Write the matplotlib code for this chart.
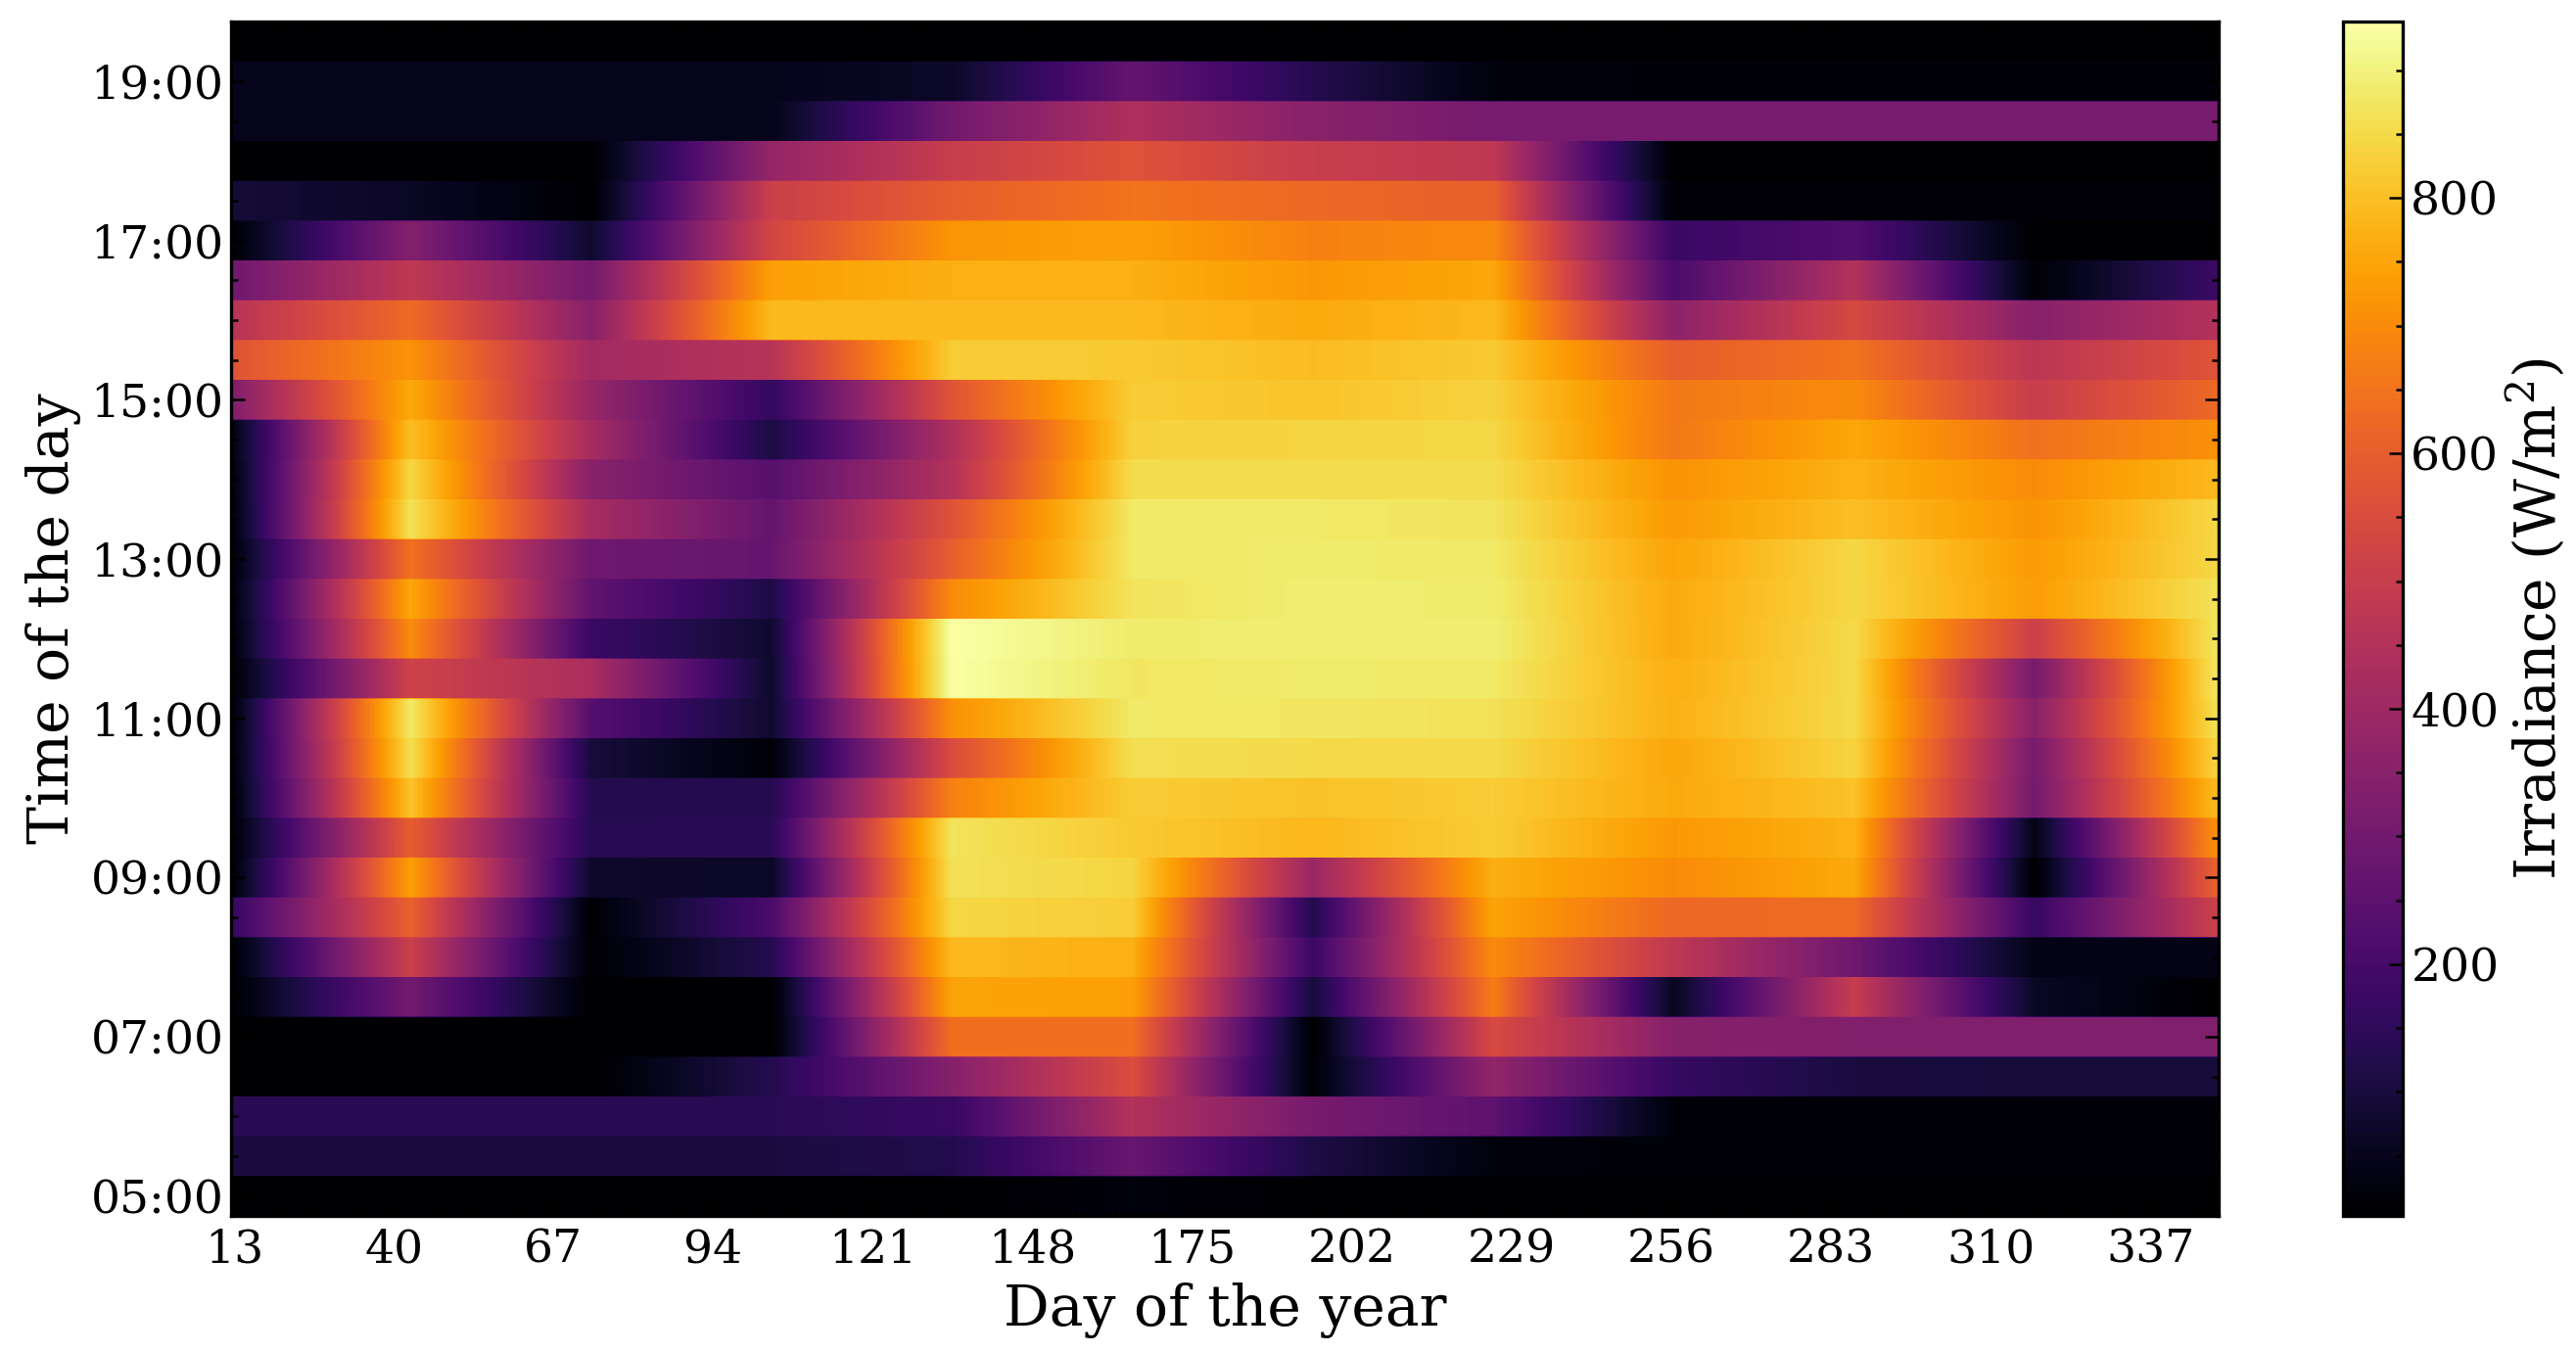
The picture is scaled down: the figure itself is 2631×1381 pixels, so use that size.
import numpy as np
import matplotlib
matplotlib.use('Agg')
import matplotlib.pyplot as plt
from matplotlib.ticker import MultipleLocator

plt.rcParams['font.family'] = 'DejaVu Serif'
plt.rcParams['mathtext.fontset'] = 'dejavuserif'

# Monthly sample days and the half-hourly time slots (top row first)
days = [12.5, 43, 73.5, 104, 134.5, 165, 195.5, 226, 256.5, 287, 317.5, 348]
hours = [19.5, 19, 18.5, 18, 17.5, 17, 16.5, 16, 15.5, 15, 14.5, 14, 13.5, 13, 12.5,
         12, 11.5, 11, 10.5, 10, 9.5, 9, 8.5, 8, 7.5, 7, 6.5, 6, 5.5, 5]

# Irradiance in W/m2
h1930 = [5, 5, 5, 5, 5, 8, 6, 5, 5, 5, 5, 5]
h1900 = [48, 48, 48, 48, 70, 270, 130, 25, 20, 20, 20, 20]
h1830 = [48, 48, 48, 48, 300, 440, 350, 310, 310, 310, 310, 310]
h1800 = [5, 5, 5, 380, 500, 570, 500, 480, 5, 5, 5, 5]
h1730 = [95, 65, 5, 510, 600, 650, 625, 605, 12, 12, 12, 12]
h1700 = [10, 340, 80, 530, 720, 740, 680, 695, 175, 225, 5, 5]
h1630 = [290, 480, 305, 740, 770, 770, 725, 755, 210, 450, 15, 175]
h1600 = [460, 630, 350, 790, 790, 790, 760, 790, 360, 540, 350, 450]
h1530 = [570, 715, 410, 460, 825, 820, 795, 820, 600, 650, 470, 570]
h1500 = [330, 760, 385, 160, 575, 825, 810, 835, 660, 700, 500, 625]
h1430 = [25, 800, 420, 110, 440, 835, 840, 845, 660, 755, 645, 710]
h1400 = [15, 845, 350, 240, 450, 855, 855, 855, 715, 775, 700, 790]
h1330 = [10, 865, 420, 270, 570, 880, 880, 870, 730, 800, 715, 845]
h1300 = [10, 645, 290, 275, 600, 880, 885, 880, 750, 845, 730, 845]
h1230 = [10, 755, 260, 115, 700, 870, 890, 885, 760, 845, 735, 865]
h1200 = [10, 700, 175, 80, 938, 885, 890, 890, 760, 850, 510, 870]
h1130 = [5, 520, 430, 75, 935, 875, 885, 880, 770, 850, 310, 870]
h1100 = [5, 880, 235, 80, 710, 880, 875, 865, 775, 850, 350, 860]
h1030 = [5, 860, 100, 15, 550, 860, 850, 850, 755, 840, 310, 835]
h1000 = [5, 810, 130, 130, 680, 825, 805, 825, 760, 805, 305, 790]
h0930 = [5, 600, 135, 140, 870, 820, 785, 825, 725, 775, 40, 705]
h0900 = [5, 740, 75, 65, 865, 840, 390, 770, 700, 760, 5, 605]
h0830 = [160, 610, 10, 210, 845, 825, 125, 750, 625, 630, 170, 510]
h0800 = [5, 510, 10, 130, 790, 770, 175, 700, 480, 290, 40, 40]
h0730 = [3, 300, 3, 3, 750, 740, 100, 670, 55, 500, 65, 3]
h0700 = [3, 3, 3, 3, 640, 640, 5, 545, 345, 335, 335, 335]
h0630 = [3, 3, 3, 130, 345, 555, 15, 375, 165, 105, 95, 95]
h0600 = [140, 140, 140, 140, 170, 450, 310, 255, 20, 20, 20, 20]
h0530 = [105, 105, 105, 105, 125, 280, 115, 25, 18, 18, 18, 18]
h0500 = [3, 3, 3, 3, 3, 25, 5, 3, 3, 3, 3, 3]

irradiance = np.array([h1930, h1900, h1830, h1800, h1730, h1700, h1630, h1600, h1530, h1500,
                       h1430, h1400, h1330, h1300, h1230, h1200, h1130, h1100, h1030, h1000,
                       h0930, h0900, h0830, h0800, h0730, h0700, h0630, h0600, h0530, h0500])

W, H = 2631, 1381
fig = plt.figure(figsize=(W / 200, H / 200), dpi=200)
ax = fig.add_axes([236 / W, 1 - 1242 / H, 2030 / W, 1220 / H])
cax = fig.add_axes([2393 / W, 1 - 1242 / H, 61 / W, 1220 / H])

# Rows stay sharp, only the day direction gets blended: repeat each row so
# bilinear resampling has nothing to mix vertically
dx = (days[-1] - days[0]) / (len(days) - 1)
im = ax.imshow(np.repeat(irradiance, 40, axis=0), cmap='inferno', vmin=3, vmax=938,
               aspect='auto', interpolation='bilinear', interpolation_stage='data',
               origin='upper',
               extent=(days[0] - dx / 2, days[-1] + dx / 2, min(hours) - 0.25, max(hours) + 0.25))
ax.set_xlim(12.5, 348.5)
ax.set_ylim(4.75, 19.75)

day_ticks = np.arange(13, 340, 27)
hour_ticks = np.arange(5, 20, 2)
ax.set_xticks(day_ticks)
ax.set_xticklabels([str(d) for d in day_ticks])
ax.set_yticks(hour_ticks)
ax.set_yticklabels([f'{h:02d}:00' for h in hour_ticks])
ax.xaxis.set_minor_locator(MultipleLocator(6.75))
ax.yaxis.set_minor_locator(MultipleLocator(0.5))
ax.tick_params(which='major', direction='in', length=5, width=0.9, top=True, right=True,
               labelsize=17, pad=4.5)
ax.tick_params(axis='y', which='major', pad=2.7)
ax.tick_params(which='minor', direction='in', length=2.5, width=0.9, top=True, right=True)
ax.set_xlabel('Day of the year', fontsize=21, labelpad=3.8)
ax.set_ylabel('Time of the day', fontsize=21, labelpad=3.3)
for s in ax.spines.values():
    s.set_linewidth(1.2)

cb = fig.colorbar(im, cax=cax)
cb.set_ticks([200, 400, 600, 800])
cb.ax.yaxis.set_minor_locator(MultipleLocator(50))
cb.ax.tick_params(which='major', direction='in', length=5, width=0.9, labelsize=17, pad=3)
cb.ax.tick_params(which='minor', direction='in', length=2.5, width=0.9)
cb.outline.set_linewidth(1.2)
cb.set_label('Irradiance (W/m$^2$)', fontsize=21, labelpad=2)

fig.savefig('out.png', dpi=200)
